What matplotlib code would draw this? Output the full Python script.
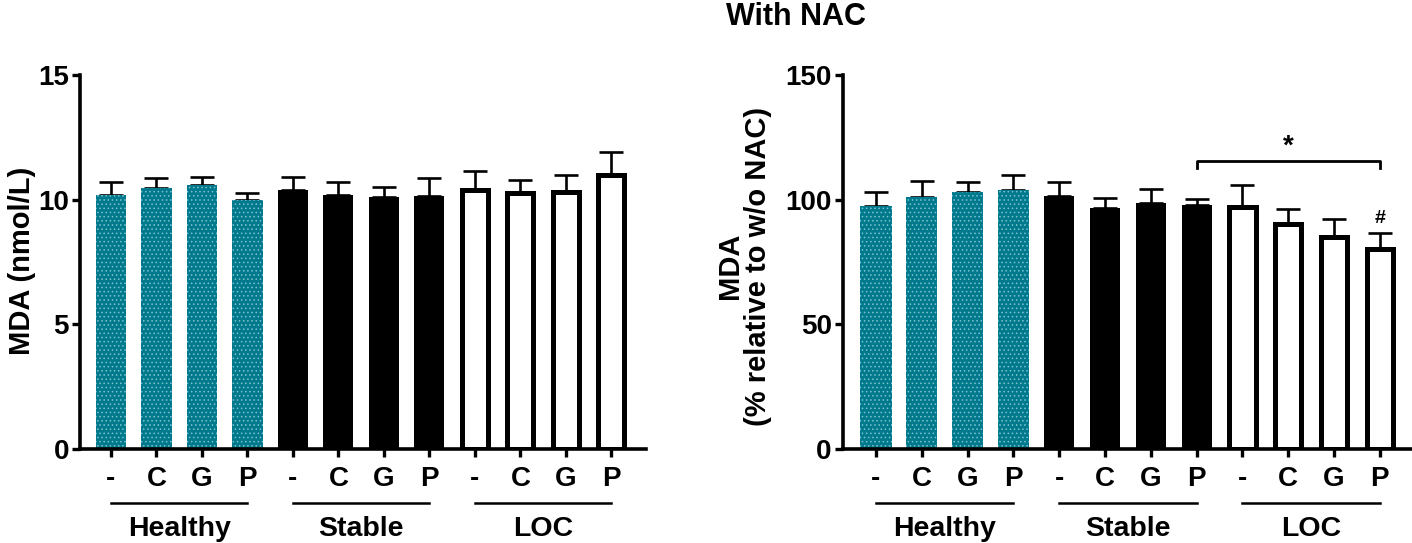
import numpy as np
import matplotlib
matplotlib.use('Agg')
from matplotlib import pyplot as plt
from matplotlib import transforms

plt.rcParams['font.family'] = ['Liberation Sans', 'DejaVu Sans']
plt.rcParams['font.weight'] = 'bold'
plt.rcParams['hatch.linewidth'] = 0.6

# data
treatments = ['-', 'C', 'G', 'P'] * 3
groups = ['Healthy', 'Stable', 'LOC']
group_styles = ['teal', 'black', 'open']

abs_mean = [10.2, 10.45, 10.6, 10.0, 10.4, 10.2, 10.1, 10.15, 10.4, 10.25, 10.3, 11.0]
abs_top = [10.7, 10.85, 10.9, 10.27, 10.9, 10.7, 10.5, 10.85, 11.15, 10.8, 11.0, 11.9]

rel_mean = [97.6, 101.0, 103.0, 103.9, 101.4, 96.5, 98.6, 97.9, 96.9, 90.2, 85.0, 80.2]
rel_top = [103.1, 107.5, 107.2, 109.9, 107.1, 100.6, 104.2, 100.3, 106.0, 96.3, 92.3, 86.6]

sig_pair = (7, 11)      # bracket between Stable P and LOC P
sig_height = 115.5
hash_bar = 11

TEAL = '#00798c'


def draw_panel(ax, means, tops, ymax, yticks, xlim):
    x = np.arange(len(means))
    means = np.array(means)
    err = np.array(tops) - means
    for i in range(len(means)):
        style = group_styles[i // 4]
        if style == 'teal':
            ax.bar(x[i], means[i], width=0.68, color=TEAL, linewidth=0, zorder=2)
            ax.bar(x[i], means[i], width=0.68, facecolor='none', edgecolor='#7cc3cf',
                   linewidth=0, hatch='....', zorder=2)
        elif style == 'black':
            ax.bar(x[i], means[i], width=0.66, color='black', linewidth=0, zorder=2)
        else:
            ax.bar(x[i], means[i], width=0.57, facecolor='white', edgecolor='black',
                   linewidth=3.6, zorder=2)
    ax.errorbar(x, means, yerr=[np.zeros_like(err), err], fmt='none', ecolor='black',
                elinewidth=1.9, capsize=8.5, capthick=1.9, zorder=1)

    ax.set_xlim(*xlim)
    ax.set_ylim(0, ymax)
    ax.set_yticks(yticks)
    ax.set_xticks(x)
    ax.set_xticklabels(treatments, fontsize=20, fontweight='bold')
    ax.tick_params(axis='x', length=6, width=2.4, pad=6)
    ax.tick_params(axis='y', length=6, width=2.4, pad=2, labelsize=20)
    for lab in ax.get_yticklabels():
        lab.set_fontweight('bold')
    for s in ['top', 'right']:
        ax.spines[s].set_visible(False)
    for s in ['left', 'bottom']:
        ax.spines[s].set_linewidth(2.6)

    trans = transforms.blended_transform_factory(ax.transData, ax.transAxes)
    for g, name in enumerate(groups):
        x0, x1 = g * 4, g * 4 + 3
        ax.plot([x0, x1], [-0.145, -0.145], color='black', lw=1.8, transform=trans,
                clip_on=False)
        ax.text((x0 + x1) / 2, -0.215, name, ha='center', va='center', fontsize=20.5,
                fontweight='bold', transform=trans)


fig = plt.figure(figsize=(14.12, 5.43), dpi=100)
ax1 = fig.add_axes([0.0567, 0.1731, 0.4008, 0.6888])
ax2 = fig.add_axes([0.597, 0.1731, 0.403, 0.6888])

draw_panel(ax1, abs_mean, abs_top, 15, [0, 5, 10, 15], (-0.68, 11.76))
draw_panel(ax2, rel_mean, rel_top, 150, [0, 50, 100, 150], (-0.72, 11.70))

# significance marks
a, b = sig_pair
ax2.plot([a, a, b, b], [sig_height - 2.8, sig_height, sig_height, sig_height - 2.8],
         color='black', lw=2.0)
ax2.text((a + b) / 2, sig_height + 0.5, '*', ha='center', va='bottom', fontsize=20,
         fontweight='bold')
ax2.text(hash_bar, rel_top[hash_bar] + 2.5, '#', ha='center', va='bottom', fontsize=14,
         fontweight='bold')

fig.text(22 / 1412, 0.52, 'MDA (nmol/L)', rotation=90, ha='center', va='center',
         fontsize=21, fontweight='bold')
fig.text(744 / 1412, 0.51, 'MDA\n(% relative to w/o NAC)', rotation=90, ha='center',
         va='center', fontsize=21, fontweight='bold', multialignment='center',
         linespacing=1.0)
fig.text(796 / 1412, 0.968, 'With NAC', ha='center', va='center', fontsize=22,
         fontweight='bold')

fig.savefig('out.png', dpi=100)
